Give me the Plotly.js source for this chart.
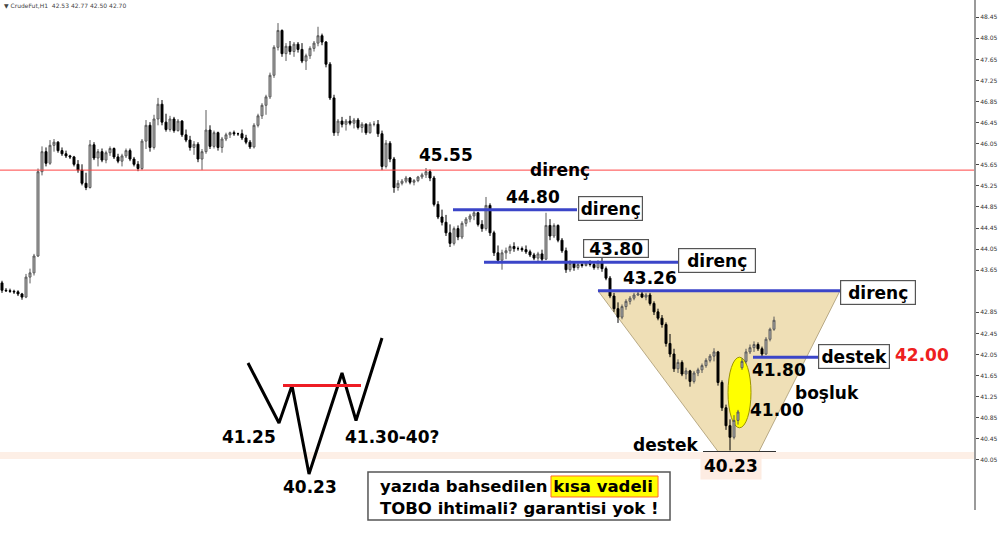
<!DOCTYPE html>
<html>
<head>
<meta charset="utf-8">
<script src="https://cdn.plot.ly/plotly-3.0.1.min.js"></script>
<style>
  html, body { margin: 0; padding: 0; background: #fff; }
  #chart { width: 1000px; height: 546px; }
</style>
</head>
<body>
<div id="chart"></div>
<script>
// CrudeFut H1 bars (oldest first)
const barOpen = [
  43.41,43.27,43.26,43.25,43.24,43.20,43.14,43.52,43.60,43.92,
  45.52,45.90,45.68,46.02,46.08,45.92,45.86,45.82,45.80,45.66,
  45.55,45.30,45.22,46.03,45.78,45.90,45.74,45.88,45.96,45.80,
  45.72,45.82,45.92,45.76,45.66,45.58,46.10,46.40,45.98,46.52,
  46.80,46.46,46.32,46.52,46.30,46.48,46.22,46.12,45.98,46.04,
  45.76,45.90,46.31,46.00,46.26,45.98,46.14,46.22,46.26,46.24,
  46.24,46.16,46.08,45.99,46.40,46.58,46.78,46.94,47.35,47.88,
  48.20,47.76,47.90,47.80,47.94,47.84,47.62,47.72,47.86,47.96,
  48.10,47.98,47.56,46.92,46.26,46.48,46.42,46.48,46.44,46.50,
  46.36,46.42,46.26,46.42,46.42,46.24,45.62,46.06,45.76,45.22,
  45.30,45.34,45.40,45.32,45.35,45.42,45.46,45.52,45.40,44.90,
  44.66,44.56,44.36,44.16,44.44,44.28,44.54,44.62,44.68,44.74,
  44.52,44.44,44.88,44.36,43.98,43.84,43.98,44.02,44.10,44.06,
  44.06,44.04,44.00,43.94,43.88,43.96,43.86,44.50,44.30,44.50,
  44.22,44.02,43.66,43.78,43.70,43.76,43.74,43.78,43.76,43.70,
  43.80,43.68,43.50,43.16,42.92,42.76,42.96,43.06,43.12,43.18,
  43.20,43.14,43.18,43.02,42.86,42.74,42.62,42.26,42.06,41.78,
  41.90,41.68,41.74,41.54,41.70,41.76,41.84,41.94,42.02,42.10,
  41.52,41.04,40.70,40.48,40.80,41.80,41.92,42.10,42.18,42.24,
  42.16,42.06,42.34,42.53
];
const barHigh = [
  43.45,43.31,43.30,43.28,43.27,43.22,43.58,43.68,43.96,45.58,
  46.00,45.98,46.12,46.14,46.10,45.98,45.92,45.84,45.82,45.74,
  45.66,45.50,46.12,46.08,45.95,45.96,45.92,46.00,45.98,45.86,
  45.86,45.96,45.96,45.80,45.72,46.14,46.50,46.46,46.60,46.92,
  46.88,46.62,46.58,46.56,46.52,46.50,46.32,46.20,46.10,46.08,
  45.95,46.69,46.40,46.30,46.28,46.18,46.26,46.28,46.30,46.26,
  46.32,46.22,46.12,46.44,46.62,46.82,46.98,47.40,47.92,48.34,
  48.22,47.96,48.00,47.98,47.98,47.96,47.76,47.90,48.00,48.27,
  48.14,48.00,47.60,46.98,46.52,46.56,46.52,46.58,46.54,46.54,
  46.46,46.44,46.46,46.48,46.50,46.30,46.12,46.10,45.80,45.36,
  45.38,45.44,45.42,45.38,45.44,45.50,45.59,45.56,45.44,44.96,
  44.80,44.70,44.52,44.48,44.50,44.58,44.66,44.72,44.78,44.76,
  44.60,45.04,44.92,44.40,44.12,44.04,44.08,44.14,44.18,44.10,
  44.10,44.12,44.04,43.98,44.00,44.04,44.74,44.62,44.54,44.52,
  44.26,44.08,43.84,43.82,43.80,43.78,43.80,43.84,43.82,43.84,
  43.94,43.72,43.54,43.22,43.04,43.00,43.10,43.16,43.22,43.24,
  43.24,43.22,43.22,43.06,42.92,42.80,42.66,42.44,42.16,41.96,
  41.94,41.80,41.76,41.74,41.80,41.88,41.98,42.06,42.17,42.12,
  41.56,41.10,40.82,40.90,41.00,41.98,42.16,42.24,42.30,42.28,
  42.20,42.38,42.56,42.77
];
const barLow = [
  43.22,43.24,43.22,43.20,43.16,43.09,43.12,43.40,43.55,43.90,
  45.45,45.62,45.65,45.90,45.88,45.82,45.78,45.76,45.62,45.50,
  45.26,45.17,45.20,45.74,45.62,45.70,45.68,45.82,45.76,45.68,
  45.62,45.78,45.72,45.62,45.53,45.55,45.95,45.90,45.94,46.40,
  46.40,46.28,46.28,46.26,46.28,46.18,46.08,45.92,45.84,45.70,
  45.55,45.86,45.95,45.96,45.92,45.88,46.10,46.16,46.20,46.20,
  46.12,46.04,45.95,45.96,46.36,46.52,46.60,46.90,47.30,47.82,
  47.70,47.62,47.74,47.70,47.78,47.58,47.45,47.66,47.80,47.90,
  47.92,47.50,46.88,46.20,46.20,46.36,46.30,46.40,46.34,46.32,
  46.26,46.22,46.24,46.38,46.18,45.55,45.58,45.70,45.12,45.16,
  45.26,45.30,45.28,45.26,45.32,45.38,45.40,45.34,44.86,44.62,
  44.50,44.30,44.09,44.12,44.22,44.24,44.48,44.56,44.60,44.48,
  44.38,44.40,44.30,43.92,43.78,43.66,43.86,43.96,44.00,44.02,
  44.00,43.96,43.90,43.84,43.80,43.80,43.84,44.22,44.26,44.18,
  43.98,43.60,43.62,43.64,43.66,43.70,43.72,43.72,43.66,43.66,
  43.62,43.46,43.12,42.86,42.65,42.72,42.90,43.00,43.08,43.16,
  43.12,43.08,42.98,42.80,42.70,42.56,42.20,42.00,41.72,41.70,
  41.64,41.58,41.44,41.50,41.64,41.70,41.80,41.90,41.92,41.46,
  40.98,40.62,40.23,40.44,40.72,41.76,41.88,42.06,42.10,42.12,
  42.00,42.04,42.30,42.50
];
const barClose = [
  43.27,43.26,43.25,43.24,43.20,43.14,43.52,43.60,43.92,45.52,
  45.90,45.68,46.02,46.08,45.92,45.86,45.82,45.80,45.66,45.55,
  45.30,45.22,46.03,45.78,45.90,45.74,45.88,45.96,45.80,45.72,
  45.82,45.92,45.76,45.66,45.58,46.10,46.40,45.98,46.52,46.80,
  46.46,46.32,46.52,46.30,46.48,46.22,46.12,45.98,46.04,45.76,
  45.90,46.31,46.00,46.26,45.98,46.14,46.22,46.26,46.24,46.24,
  46.16,46.08,45.99,46.40,46.58,46.78,46.94,47.35,47.88,48.20,
  47.76,47.90,47.80,47.94,47.84,47.62,47.72,47.86,47.96,48.10,
  47.98,47.56,46.92,46.26,46.48,46.42,46.48,46.44,46.50,46.36,
  46.42,46.26,46.42,46.42,46.24,45.62,46.06,45.76,45.22,45.30,
  45.34,45.40,45.32,45.35,45.42,45.46,45.52,45.40,44.90,44.66,
  44.56,44.36,44.16,44.44,44.28,44.54,44.62,44.68,44.74,44.52,
  44.44,44.88,44.36,43.98,43.84,43.98,44.02,44.10,44.06,44.06,
  44.04,44.00,43.94,43.88,43.96,43.86,44.50,44.30,44.50,44.22,
  44.02,43.66,43.78,43.70,43.76,43.74,43.78,43.76,43.70,43.80,
  43.68,43.50,43.16,42.92,42.76,42.96,43.06,43.12,43.18,43.20,
  43.14,43.18,43.02,42.86,42.74,42.62,42.26,42.06,41.78,41.90,
  41.68,41.74,41.54,41.70,41.76,41.84,41.94,42.02,42.10,41.52,
  41.04,40.70,40.48,40.80,40.96,41.92,42.10,42.18,42.24,42.16,
  42.06,42.34,42.53,42.70
];
const barIndex = barOpen.map((_, i) => i);

// right-hand price scale
const priceTicks = [48.45,48.05,47.65,47.25,46.85,46.45,46.05,45.65,45.25,44.85,
                    44.45,44.05,43.65,42.85,42.45,42.05,41.65,41.25,40.85,40.45,40.05];
const priceTickText = priceTicks.map(v => v.toFixed(2));

// marked levels
const resistanceLevels = [45.55, 44.80, 43.80, 43.26];
const supportLevel = 42.00;
const gapTop = 41.80;
const gapBottom = 41.00;
const swingLow = 40.23;

// inverse head & shoulders sketch (its own price scale)
const sketchBar   = [61.5, 69.25, 72.5, 76.75, 85, 88.5, 95];
const sketchPrice = [42.45, 41.25, 42.00, 40.23, 42.25, 41.30, 42.95];
const sketchNeck  = 42.00;

const fmt = v => v.toFixed(2);
const last = barOpen.length - 1;
const BOLD = 'DejaVu Sans';
const BLUE = '#3b45c8';

const traces = [
  {
    type: 'candlestick',
    x: barIndex, open: barOpen, high: barHigh, low: barLow, close: barClose,
    increasing: { line: { color: '#5a5a5a', width: 1 }, fillcolor: '#b8b8b8' },
    decreasing: { line: { color: '#000000', width: 1 }, fillcolor: '#000000' },
    whiskerwidth: 0,
    hoverinfo: 'none',
    showlegend: false
  },
  {
    type: 'scatter', mode: 'lines',
    x: sketchBar, y: sketchPrice, yaxis: 'y2',
    line: { color: '#000', width: 3 },
    hoverinfo: 'none', showlegend: false
  }
];

function label(text, x, y, opts) {
  return Object.assign({
    text: '<b>' + text + '</b>', x: x, y: y, xref: 'x', yref: 'y',
    showarrow: false, xanchor: 'center', yanchor: 'middle',
    font: { family: BOLD, size: 17, color: '#000' }
  }, opts || {});
}
function boxed(text, x, y, w, h) {
  return label(text, x, y, {
    bgcolor: '#ffffff', bordercolor: '#555555', borderwidth: 1.2,
    borderpad: 0, width: w, height: h
  });
}

const shapes = [
  // faint band near the swing low
  { type: 'rect', xref: 'paper', yref: 'y', x0: 0, x1: 1, y0: 40.07, y1: 40.20,
    fillcolor: '#fdefe6', line: { width: 0 }, layer: 'below' },
  // funnel from the 43.26 level down to the low
  { type: 'path', xref: 'x', yref: 'y', layer: 'below',
    path: `M149,${resistanceLevels[3]} L209.5,${resistanceLevels[3]} L189.25,40.21 L179,40.21 Z`,
    fillcolor: '#efdfb6', line: { color: '#a89870', width: 0.8 } },
  // gap highlight
  { type: 'circle', xref: 'x', yref: 'y', layer: 'below',
    x0: 181.5, x1: 187.25, y0: 40.66, y1: 42.00,
    fillcolor: '#ffff00', line: { color: '#9c9400', width: 1 } },
  // 45.55 resistance (full width)
  { type: 'line', xref: 'paper', yref: 'y', x0: 0, x1: 1,
    y0: resistanceLevels[0], y1: resistanceLevels[0], line: { color: '#ff4444', width: 1 } },
  { type: 'line', xref: 'x', yref: 'y', x0: 112.75, x1: 143.75,
    y0: resistanceLevels[1], y1: resistanceLevels[1], line: { color: BLUE, width: 3 } },
  { type: 'line', xref: 'x', yref: 'y', x0: 120.5, x1: 169,
    y0: resistanceLevels[2], y1: resistanceLevels[2], line: { color: BLUE, width: 3 } },
  { type: 'line', xref: 'x', yref: 'y', x0: 149, x1: 209.5,
    y0: resistanceLevels[3], y1: resistanceLevels[3], line: { color: BLUE, width: 3 } },
  { type: 'line', xref: 'x', yref: 'y', x0: 187.75, x1: 204.5,
    y0: supportLevel, y1: supportLevel, line: { color: BLUE, width: 3 } },
  // base of the funnel
  { type: 'line', xref: 'x', yref: 'y', x0: 175.25, x1: 193.5,
    y0: 40.21, y1: 40.21, line: { color: '#333', width: 1 } },
  // sketch neckline
  { type: 'line', xref: 'x', yref: 'y2', x0: 70.25, x1: 89.75,
    y0: sketchNeck, y1: sketchNeck, line: { color: '#ee1c24', width: 3 } },
  // note panel
  { type: 'rect', xref: 'paper', yref: 'paper', x0: 0.3778, x1: 0.6879, y0: -0.0196, y1: 0.0745,
    fillcolor: '#ffffff', line: { color: '#555555', width: 1.5 } },
  { type: 'rect', xref: 'paper', yref: 'paper', x0: 0.5657, x1: 0.6756, y0: 0.0255, y1: 0.0667,
    fillcolor: '#ffff00', line: { color: '#ff6a2a', width: 1 } }
];

const annotations = [
  { text: `\u25BC CrudeFut,H1  ${fmt(barOpen[last])} ${fmt(barHigh[last])} ${fmt(barLow[last])} ${fmt(barClose[last])}`,
    xref: 'paper', yref: 'paper', x: 0.002, y: 0.990, xanchor: 'left', yanchor: 'middle',
    showarrow: false, font: { family: 'DejaVu Sans', size: 6, color: '#444' } },

  label(fmt(resistanceLevels[0]), 111, 45.84),
  label('direnç', 139.5, 45.55),
  label(fmt(resistanceLevels[1]), 132.75, 45.04),
  boxed('direnç', 152, 44.82, 63, 23),
  boxed(fmt(resistanceLevels[2]), 153.5, 44.07, 64, 17),
  boxed('direnç', 178.75, 43.83, 76, 23),
  label(fmt(resistanceLevels[3]), 162, 43.50),
  boxed('direnç', 219, 43.22, 74, 23),
  boxed('destek', 213, 42.02, 70, 23),
  label(fmt(supportLevel), 230, 42.04, { font: { family: BOLD, size: 17, color: '#ee2020' } }),
  label(fmt(gapTop), 194.25, 41.76),
  label('boşluk', 206.25, 41.32),
  label(fmt(gapBottom), 193.75, 41.00),
  label('destek', 165.75, 40.34),
  label(fmt(swingLow), 182.25, 39.93, { bgcolor: '#fdece2', borderpad: 3 }),

  label('41.25', 61.75, 40.97, { yref: 'y2' }),
  label(fmt(sketchPrice[3]), 77, 39.97, { yref: 'y2' }),
  label('41.30-40?', 97.5, 40.97, { yref: 'y2' }),

  { text: '<b>yazıda bahsedilen kısa vadeli</b>', xref: 'paper', yref: 'paper',
    x: 0.6725, y: 0.0451, xanchor: 'right', yanchor: 'middle', showarrow: false,
    font: { family: BOLD, size: 16.5, color: '#000' } },
  { text: '<b>TOBO ihtimali? garantisi yok !</b>', xref: 'paper', yref: 'paper',
    x: 0.5329, y: 0.0039, xanchor: 'center', yanchor: 'middle', showarrow: false,
    font: { family: BOLD, size: 16.5, color: '#000' } }
];

const layout = {
  width: 1000, height: 546,
  margin: { l: 0, r: 26, t: 0, b: 36, pad: 0 },
  paper_bgcolor: '#ffffff', plot_bgcolor: '#ffffff',
  showlegend: false,
  xaxis: { range: [-0.5, 243], visible: false, rangeslider: { visible: false }, fixedrange: true },
  yaxis: {
    range: [39.10, 48.778], side: 'right', showgrid: false, zeroline: false,
    showline: true, linecolor: '#9a9a9a', linewidth: 2,
    ticks: 'outside', ticklen: 3, tickcolor: '#444',
    tickmode: 'array', tickvals: priceTicks, ticktext: priceTickText,
    tickfont: { family: 'DejaVu Sans', size: 6, color: '#333' }, fixedrange: true
  },
  yaxis2: { range: [39.51, 49.71], overlaying: 'y', visible: false, fixedrange: true },
  shapes: shapes,
  annotations: annotations
};

Plotly.newPlot('chart', traces, layout, { staticPlot: true, displayModeBar: false });
</script>
</body>
</html>
